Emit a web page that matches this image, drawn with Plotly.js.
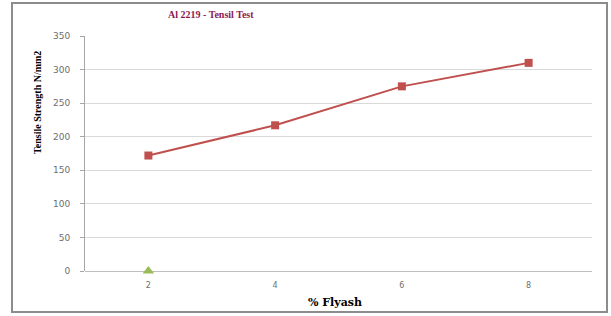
<!DOCTYPE html>
<html>
<head>
<meta charset="utf-8">
<script src="https://cdn.plot.ly/plotly-3.0.1.min.js"></script>
<style>html,body{margin:0;padding:0;background:#fff;}#chart{width:611px;height:316px;}</style>
</head>
<body>
<div id="chart"></div>
<script>
var categories = ["2", "4", "6", "8"];
var tensileStrength = [172, 217, 275, 310];
var series2Categories = ["2"];
var series2Values = [0];
var yTickValues = [0, 50, 100, 150, 200, 250, 300, 350];

var traces = [
  {
    x: categories, y: tensileStrength, type: "scatter", mode: "lines+markers",
    line: {color: "#C0504D", width: 2},
    marker: {symbol: "square", size: 8, color: "#C0504D"},
    cliponaxis: false, showlegend: false
  },
  {
    x: series2Categories, y: series2Values, type: "scatter", mode: "markers",
    marker: {symbol: "triangle-up", size: 10, color: "#9BBB59"},
    cliponaxis: false, showlegend: false
  }
];

var layout = {
  width: 611, height: 316,
  margin: {l: 85, r: 19, t: 36, b: 45},
  paper_bgcolor: "#ffffff", plot_bgcolor: "#ffffff",
  title: {
    text: "<b>Al 2219 - Tensil Test</b>",
    font: {family: "Liberation Serif", size: 10, color: "#8B1A52"},
    xref: "container", yref: "container", x: 0.345, xanchor: "center", y: 0.953, yanchor: "middle"
  },
  xaxis: {
    type: "category", categoryarray: categories, range: [-0.5, 3.5],
    showgrid: false, zeroline: false, showline: false, ticks: "",
    tickfont: {family: "DejaVu Sans", size: 8, color: "#6E6E6E"},
    ticklabelstandoff: 8
  },
  yaxis: {
    range: [0, 350], tickvals: yTickValues,
    showgrid: true, gridcolor: "#D9D9D9", gridwidth: 1,
    zeroline: true, zerolinecolor: "#BFBFBF", zerolinewidth: 1,
    showline: true, linecolor: "#A6A6A6", linewidth: 1,
    ticks: "outside", ticklen: 4, tickcolor: "#A6A6A6",
    tickfont: {family: "DejaVu Sans", size: 9, color: "#6E6E6E"},
    ticklabelstandoff: 8
  },
  annotations: [
    {
      text: "<b>Tensile Strength N/mm2</b>", textangle: -90,
      xref: "paper", yref: "paper", x: -0.0927, y: 0.715, showarrow: false,
      xanchor: "center", yanchor: "middle",
      font: {family: "Liberation Serif", size: 10, color: "#000000"}
    },
    {
      text: "<b>% Flyash</b>",
      xref: "paper", yref: "paper", x: 0.493, y: -0.136, showarrow: false,
      xanchor: "center", yanchor: "middle",
      font: {family: "DejaVu Serif", size: 11, color: "#000000"}
    }
  ],
  shapes: [
    {type: "rect", xref: "paper", yref: "paper", x0: -0.144, x1: 1.0296, y0: -0.1745, y1: 1.140,
     line: {color: "#8C8C8C", width: 2}, fillcolor: "rgba(0,0,0,0)", layer: "below"}
  ]
};

Plotly.newPlot("chart", traces, layout, {displayModeBar: false, staticPlot: true});
</script>
</body>
</html>
